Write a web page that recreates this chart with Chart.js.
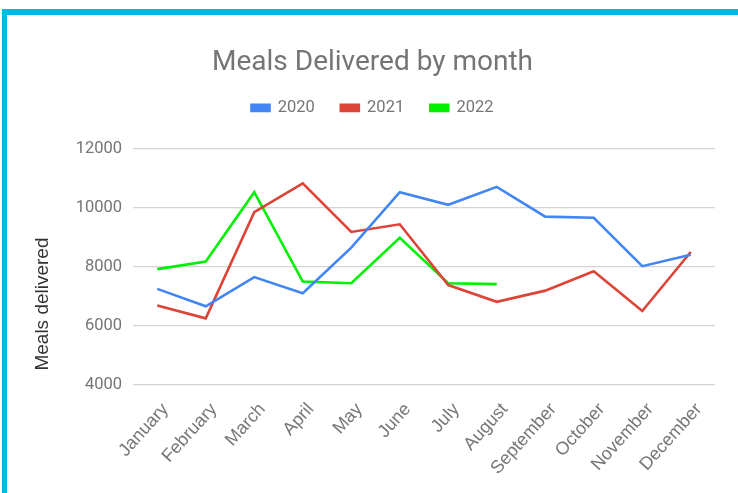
<!DOCTYPE html>
<html>
<head>
<meta charset="utf-8">
<script src="https://cdn.jsdelivr.net/npm/chart.js@4.4.1/dist/chart.umd.min.js"></script>
<style>
  body { margin: 0; background: #fff; }
  #frame { position: absolute; left: 2px; top: 9px; width: 736px; height: 484px;
           border-top: 6px solid #00b9e4; border-left: 5px solid #00b9e4; box-sizing: border-box; }
  #box { position: absolute; left: 7px; top: 15px; width: 731px; height: 478px; }
</style>
</head>
<body>
<div id="frame"></div>
<div id="box"><canvas id="myChart"></canvas></div>
<script>
var months = ["January", "February", "March", "April", "May", "June", "July",
              "August", "September", "October", "November", "December"];
var meals2020 = [7260, 6670, 7660, 7110, 8660, 10540, 10110, 10720, 9710, 9670, 8030, 8420];
var meals2021 = [6700, 6260, 9860, 10840, 9190, 9450, 7390, 6820, 7200, 7860, 6510, 8510];
var meals2022 = [7930, 8190, 10540, 7510, 7450, 8990, 7450, 7420];
var yTicks = [4000, 6000, 8000, 10000, 12000];
var yTitle = "Meals delivered";

Chart.defaults.font.family = "Roboto";
Chart.defaults.color = "#757575";

// extra room between the legend and the plot
var legendGap = {
  id: "legendGap",
  beforeInit: function (chart) {
    var fit = chart.legend.fit;
    chart.legend.fit = function () {
      fit.bind(chart.legend)();
      this.height += 23;
    };
  }
};

// y axis title, centred on the axis plus its labels like the original
var sideTitle = {
  id: "sideTitle",
  afterDraw: function (chart) {
    var ctx = chart.ctx;
    var area = chart.chartArea;
    ctx.save();
    ctx.translate(41, (area.top + chart.height) / 2 - 17);
    ctx.rotate(-Math.PI / 2);
    ctx.font = "19px 'Liberation Sans', Arial, sans-serif";
    ctx.fillStyle = "#333333";
    ctx.textAlign = "center";
    ctx.textBaseline = "alphabetic";
    ctx.fillText(yTitle, 0, 0);
    ctx.restore();
  }
};

function drawChart() {
  var ctx = document.getElementById("myChart").getContext("2d");
  new Chart(ctx, {
    type: "line",
    data: {
      labels: months,
      datasets: [
        { label: "2020", data: meals2020, borderColor: "#4285f4", backgroundColor: "#4285f4" },
        { label: "2021", data: meals2021, borderColor: "#db4437", backgroundColor: "#db4437" },
        { label: "2022", data: meals2022, borderColor: "#00f000", backgroundColor: "#00f000" }
      ]
    },
    options: {
      responsive: true,
      maintainAspectRatio: false,
      animation: false,
      layout: { padding: 0 },
      elements: {
        line: { borderWidth: 2.6, tension: 0 },
        point: { radius: 0, hoverRadius: 0 }
      },
      plugins: {
        title: {
          display: true,
          text: "Meals Delivered by month",
          color: "#757575",
          font: { size: 28, weight: "normal" },
          padding: { top: 31, bottom: -6 }
        },
        legend: {
          labels: {
            boxWidth: 18,
            boxHeight: 6,
            padding: 26,
            color: "#757575",
            font: { size: 16.5 }
          }
        },
        tooltip: { enabled: false }
      },
      scales: {
        x: {
          offset: true,
          grid: { display: false },
          border: { display: false },
          ticks: {
            minRotation: 48,
            maxRotation: 48,
            autoSkip: false,
            padding: 6,
            labelOffset: 8,
            color: "#777777",
            font: { family: "'Liberation Sans', Arial, sans-serif", size: 18 }
          },
          afterFit: function (scale) { scale.height = 108; }
        },
        y: {
          min: 4000,
          max: 12000,
          afterBuildTicks: function (scale) {
            scale.ticks = yTicks.map(function (v) { return { value: v }; });
          },
          afterFit: function (scale) { scale.width = 126; },
          grid: { color: "#d4d4d4", lineWidth: 1.3, drawTicks: false },
          border: { display: false },
          ticks: {
            padding: 11,
            color: "#757575",
            font: { size: 16.5 },
            callback: function (v) { return String(v); }
          }
        },
        // empty right-hand spacer so only the plot gets the right margin
        spacer: {
          position: "right",
          display: true,
          grid: { display: false },
          border: { display: false },
          ticks: { display: false },
          afterFit: function (scale) { scale.width = 23; }
        }
      }
    },
    plugins: [legendGap, sideTitle]
  });
}

drawChart();
</script>
</body>
</html>
